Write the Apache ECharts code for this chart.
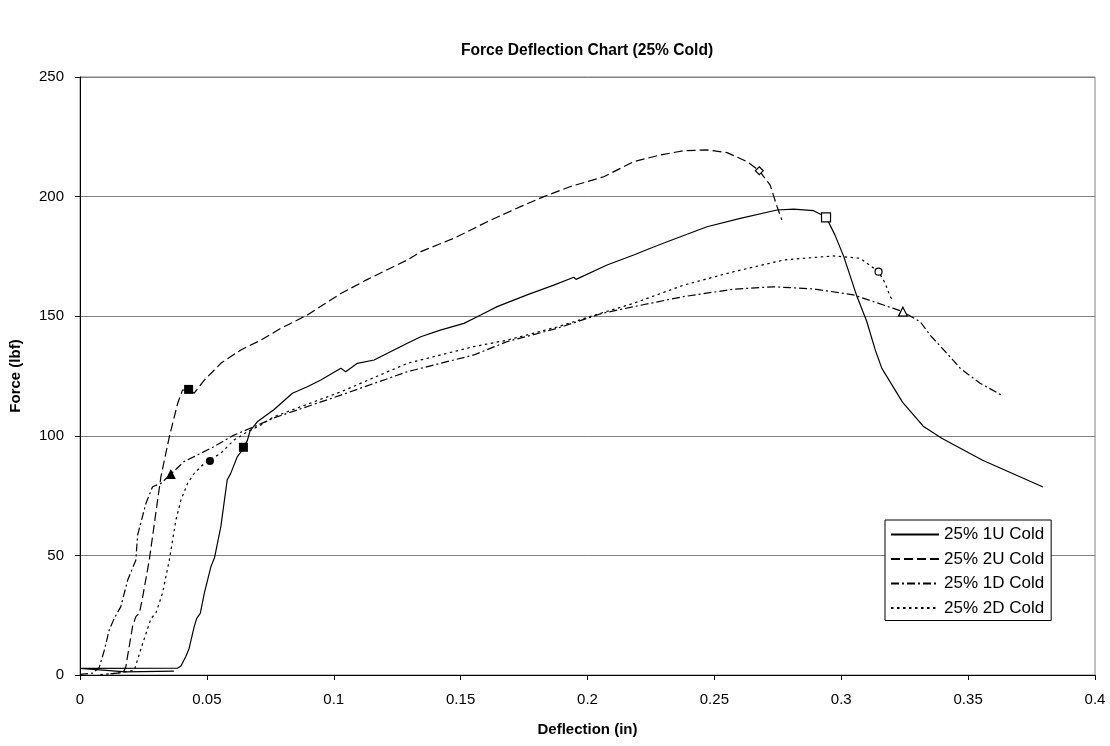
<!DOCTYPE html>
<html>
<head>
<meta charset="utf-8">
<script src="https://cdn.jsdelivr.net/npm/echarts@6/dist/echarts.min.js"></script>
<style>html,body{margin:0;padding:0;background:#fff}#c{width:1110px;height:746px}</style>
</head>
<body>
<div id="c"></div>
<script>
const titleText = "Force Deflection Chart (25% Cold)";
const xName = "Deflection (in)";
const yName = "Force (lbf)";
const seriesNames = ["25% 1U Cold", "25% 2U Cold", "25% 1D Cold", "25% 2D Cold"];

const data1U = [[0.037,1.6],[0.018,1.3],[0,2.8],[0.0385,2.9],[0.0398,3.8],[0.0417,7.7],[0.043,11.1],[0.045,20.2],[0.046,23.7],[0.0474,25.8],[0.049,34.2],[0.0516,45.3],[0.053,49],[0.0555,62],[0.058,81.5],[0.0594,84.3],[0.062,91.3],[0.064,94],[0.066,98.2],[0.067,102],[0.07,106],[0.0765,111],[0.0837,117.8],[0.0896,120.5],[0.0949,123.3],[0.1028,128.2],[0.1047,126.8],[0.1093,130.3],[0.1159,131.7],[0.129,138.7],[0.1343,141.4],[0.142,144.2],[0.1513,147],[0.1579,150.5],[0.1644,154],[0.1762,158.9],[0.1867,163],[0.1946,166.3],[0.1955,165.4],[0.2077,171.4],[0.2182,175.6],[0.2248,178.4],[0.2314,181.1],[0.2471,187.4],[0.2602,190.9],[0.2747,194.4],[0.2812,194.8],[0.2891,194.1],[0.294,191.5],[0.2975,184],[0.301,174.9],[0.3062,158.2],[0.31,148],[0.3134,135.9],[0.316,128.2],[0.3242,114],[0.3323,104],[0.3396,99],[0.3557,89.8],[0.3704,82.9],[0.3795,78.6]];

const data2U = [[0.012,0.5],[0.017,1],[0.0181,3.5],[0.0185,6.3],[0.0207,20.2],[0.022,24.4],[0.0234,25.8],[0.0247,32.7],[0.0273,48],[0.0306,73.2],[0.0319,82.9],[0.0352,99.6],[0.0385,113.6],[0.0404,119.1],[0.0428,119.4],[0.045,117.8],[0.049,123.3],[0.0555,130.3],[0.0634,135.9],[0.0713,140],[0.0791,144.9],[0.0896,150.5],[0.1028,159.5],[0.1133,165.4],[0.129,173.5],[0.1343,177],[0.1474,182.6],[0.1605,189.5],[0.1736,195.8],[0.1828,200],[0.1933,204.2],[0.2064,208.3],[0.2182,214.6],[0.2287,217.4],[0.2379,219.2],[0.2471,219.5],[0.255,218.4],[0.2629,214.6],[0.2677,210.8],[0.272,204.8],[0.2747,195.8],[0.2766,190.2]];

const data1D = [[0,0.3],[0.005,0.8],[0.0076,3.2],[0.0096,10.4],[0.0115,18.8],[0.0135,23.7],[0.0161,28.6],[0.0188,39.7],[0.022,48],[0.0227,58.5],[0.026,71.8],[0.0286,78.7],[0.0319,80.1],[0.0358,84],[0.041,89.2],[0.045,91.3],[0.0516,94.8],[0.0607,100.3],[0.0686,103.8],[0.0765,107.5],[0.1028,117],[0.129,126.8],[0.1552,133.8],[0.1684,139.4],[0.188,144.9],[0.2051,151],[0.2182,154],[0.2379,158.2],[0.2576,161.3],[0.2734,162.3],[0.2891,161.4],[0.3048,158.9],[0.3166,154.7],[0.3243,151.9],[0.3311,147.7],[0.335,142.1],[0.3416,134.5],[0.3469,128.2],[0.3547,122],[0.3639,116.6]];

const data2D = [[0.008,0.2],[0.015,0.8],[0.0214,2],[0.0247,13.2],[0.028,23.7],[0.0299,25.8],[0.0325,34.2],[0.0352,48],[0.0378,64.8],[0.0398,73.2],[0.0424,80.1],[0.045,84.3],[0.049,88.5],[0.0555,92.7],[0.0607,98.2],[0.066,101.7],[0.0713,104.5],[0.0765,108],[0.1028,118.4],[0.129,130.3],[0.1552,137.3],[0.1684,140],[0.188,145.5],[0.2051,151.2],[0.2182,155.4],[0.2379,163],[0.2576,168.6],[0.2773,173.5],[0.297,175.2],[0.3075,174.2],[0.3147,168.6],[0.3173,163.8],[0.3193,158.2],[0.32,157]];

// marker points
const filledSquares = [[0.0428,119.4],[0.0644,95.2]];
const filledTriangles = [[0.0358,84]];
const filledCircles = [[0.0512,89.5]];
const openSquares = [[0.294,191.3]];
const openDiamonds = [[0.2677,210.8]];
const openCircles = [[0.3147,168.6]];
const openTriangles = [[0.3243,151.9]];

const chart = echarts.init(document.getElementById('c'), null, {renderer:'canvas'});
const font = 'Arial, "Liberation Sans", sans-serif';

function lineSeries(name, data, type, width) {
  return {
    name: name, type: 'line', data: data, symbol: 'none', showSymbol: false,
    smooth: false, animation: false, z: 3,
    itemStyle: {color: '#000'},
    lineStyle: {color: '#000', width: width, type: type}
  };
}
function markSeries(data, symbol, size, filled) {
  return {
    type: 'scatter', data: data, symbol: symbol, symbolSize: size, animation: false, z: 5,
    silent: true,
    itemStyle: {color: filled ? '#000' : '#fff', borderColor: '#000', borderWidth: filled ? 0 : 1.2, opacity: 1}
  };
}

chart.setOption({
  backgroundColor: '#fff',
  animation: false,
  color: ['#000'],
  title: {
    text: titleText, left: 456, top: 38,
    textStyle: {fontFamily: font, fontSize: 15.6, fontWeight: 'bold', color: '#000'}
  },
  grid: {left: 79, right: 15, top: 77, bottom: 71, show: true, borderColor: '#808080', borderWidth: 1, backgroundColor: '#fff'},
  legend: {
    data: seriesNames, orient: 'vertical', left: 885, top: 520,
    padding: [6, 7, 4, 5], itemGap: 7.5, itemWidth: 48, itemHeight: 14,
    backgroundColor: '#fff', borderColor: '#000', borderWidth: 1,
    textStyle: {fontFamily: font, fontSize: 17, color: '#000'},
    itemStyle: {opacity: 0, color: 'rgba(0,0,0,0)', borderWidth: 0}
  },
  xAxis: {
    type: 'value', min: 0, max: 0.4, interval: 0.05,
    name: xName, nameLocation: 'middle', nameGap: 47,
    nameTextStyle: {fontFamily: font, fontSize: 15, fontWeight: 'bold', color: '#000'},
    axisLine: {show: true, onZero: false, lineStyle: {color: '#000', width: 1}},
    axisTick: {show: true, inside: false, length: 5, lineStyle: {color: '#000'}},
    axisLabel: {fontFamily: font, fontSize: 15, color: '#000', margin: 17,
      formatter: v => String(+v.toFixed(2))},
    splitLine: {show: false}
  },
  yAxis: {
    type: 'value', min: 0, max: 250, interval: 50,
    name: yName, nameLocation: 'middle', nameGap: 57,
    nameTextStyle: {fontFamily: font, fontSize: 15, fontWeight: 'bold', color: '#000'},
    axisLine: {show: true, lineStyle: {color: '#000', width: 1}},
    axisTick: {show: true, inside: false, length: 5, lineStyle: {color: '#000'}},
    axisLabel: {fontFamily: font, fontSize: 15, color: '#000', margin: 16},
    splitLine: {show: true, lineStyle: {color: '#808080', width: 1}}
  },
  series: [
    lineSeries(seriesNames[0], data1U, 'solid', 1.2),
    lineSeries(seriesNames[1], data2U, [9, 4], 1.2),
    lineSeries(seriesNames[2], data1D, [8, 3, 2, 3], 1.2),
    lineSeries(seriesNames[3], data2D, [2.5, 3.5], 1.2),
    markSeries(filledSquares, 'rect', 9, true),
    markSeries(filledTriangles, 'triangle', 10, true),
    markSeries(filledCircles, 'circle', 8, true),
    markSeries(openSquares, 'rect', 9, false),
    markSeries(openDiamonds, 'diamond', 8, false),
    markSeries(openCircles, 'circle', 7, false),
    markSeries(openTriangles, 'triangle', 9, false)
  ]
});
</script>
</body>
</html>
